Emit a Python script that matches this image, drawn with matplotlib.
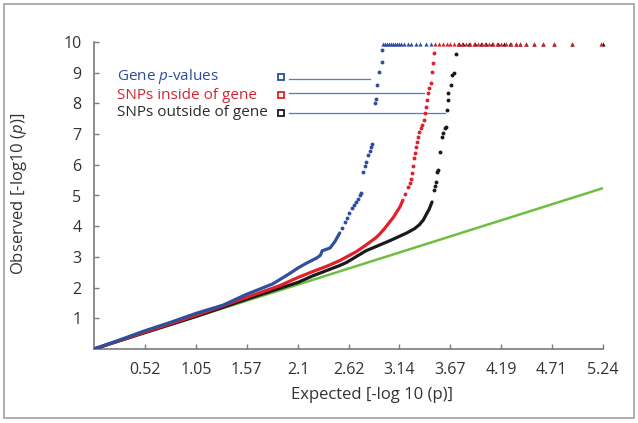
import matplotlib
matplotlib.use("Agg")
import matplotlib.pyplot as plt
from matplotlib.patches import Rectangle

plt.rcParams['font.family'] = ['Open Sans', 'DejaVu Sans']
plt.rcParams['mathtext.fontset'] = 'custom'
plt.rcParams['mathtext.rm'] = 'Open Sans'
plt.rcParams['mathtext.it'] = 'Open Sans:italic'

# ---------------- data ----------------
x_ticks = [0.52, 1.05, 1.57, 2.1, 2.62, 3.14, 3.67, 4.19, 4.71, 5.24]
x_tick_labels = ["0.52", "1.05", "1.57", "2.1", "2.62", "3.14", "3.67", "4.19", "4.71", "5.24"]
y_ticks = [1, 2, 3, 4, 5, 6, 7, 8, 9, 10]

null_x = [0, 5.24]
null_y = [0, 5.24]

# Gene p-values (blue)
gene_line_x = [0, 0.26, 0.52, 0.78, 1.05, 1.33, 1.57, 1.84, 2.01, 2.1, 2.19, 2.29, 2.33, 2.35, 2.43, 2.48, 2.53]
gene_line_y = [0, 0.29, 0.59, 0.86, 1.16, 1.43, 1.78, 2.12, 2.45, 2.64, 2.8, 2.96, 3.05, 3.2, 3.29, 3.5, 3.78]
gene_dot_x = [2.55, 2.58, 2.60, 2.63, 2.66, 2.68, 2.70, 2.72, 2.74, 2.75,
              2.77, 2.79, 2.80, 2.82, 2.84, 2.85, 2.86,
              2.89, 2.90, 2.91, 2.93, 2.96, 2.97]
gene_dot_y = [3.95, 4.14, 4.27, 4.43, 4.6, 4.69, 4.8, 4.89, 5.0, 5.08,
              5.77, 5.95, 6.09, 6.32, 6.45, 6.58, 6.68,
              8.0, 8.14, 8.6, 9.02, 9.35, 9.74]
gene_top_x = [2.98, 3.00, 3.02, 3.04, 3.06, 3.08, 3.10, 3.12, 3.14, 3.16,
              3.19, 3.23, 3.26, 3.31, 3.36, 3.42, 3.47]
gene_top_y = [9.93] * len(gene_top_x)

# SNPs inside of gene (red)
inside_line_x = [0, 0.52, 1.05, 1.57, 1.91, 2.1, 2.25, 2.4, 2.53, 2.63, 2.7, 2.77, 2.84, 2.9, 2.94, 2.99, 3.04, 3.08, 3.11, 3.15, 3.18]
inside_line_y = [0, 0.55, 1.1, 1.68, 2.06, 2.33, 2.52, 2.7, 2.88, 3.05, 3.17, 3.32, 3.48, 3.62, 3.74, 3.92, 4.12, 4.28, 4.43, 4.63, 4.85]
inside_dot_x = [3.20, 3.23, 3.25, 3.26, 3.27, 3.28, 3.29, 3.30, 3.32, 3.33, 3.34, 3.35,
                3.37, 3.38, 3.40, 3.41, 3.42, 3.43, 3.44, 3.45, 3.47, 3.48, 3.49, 3.50]
inside_dot_y = [5.05, 5.28, 5.4, 5.55, 5.73, 5.95, 6.22, 6.4, 6.58, 6.75, 6.9, 7.07,
                7.2, 7.3, 7.46, 7.7, 7.88, 8.1, 8.33, 8.5, 8.66, 9.02, 9.3, 9.64]
inside_top_x = [3.51, 3.55, 3.59, 3.63, 3.67, 3.71, 3.75, 3.79, 3.83, 3.87, 3.91, 3.95,
                3.99, 4.03, 4.07, 4.11, 4.15, 4.19, 4.24, 4.29, 4.34, 4.39, 4.45, 4.53,
                4.62, 4.74, 4.92, 5.22]
inside_top_y = [9.93] * len(inside_top_x)

# SNPs outside of gene (black)
outside_line_x = [0, 0.52, 1.05, 1.57, 2.1, 2.25, 2.53, 2.6, 2.8, 3.04, 3.22, 3.3, 3.35, 3.39, 3.42, 3.45, 3.48]
outside_line_y = [0, 0.53, 1.06, 1.62, 2.17, 2.38, 2.72, 2.82, 3.2, 3.52, 3.78, 3.92, 4.05, 4.2, 4.38, 4.55, 4.79]
outside_dot_x = [3.50, 3.51, 3.52, 3.53, 3.54, 3.56, 3.58, 3.59, 3.61, 3.62, 3.63,
                 3.64, 3.645, 3.68, 3.69, 3.71, 3.73]
outside_dot_y = [5.18, 5.3, 5.44, 5.77, 5.83, 6.42, 6.91, 7.04, 7.2, 7.23, 7.78,
                 8.1, 8.33, 8.6, 8.93, 8.99, 9.6]
outside_top_x = [3.76, 3.80, 3.86, 3.92, 3.98, 4.04, 4.10, 4.16, 4.22, 4.28, 4.34,
                 4.39, 4.45, 4.53, 4.62, 4.74, 4.92, 5.24]
outside_top_y = [9.93] * len(outside_top_x)

labels = ["Gene $\\mathit{p}$-values", "SNPs inside of gene", "SNPs outside of gene"]

# ---------------- style ----------------
c_blue = "#2f4e9e"
c_red = "#e0202b"
c_black = "#1a1a1a"
c_green = "#6dbf3f"
c_leader = "#4f7fc4"
text_colors = ["#2d4c9c", "#d9232e", "#2b2b2b"]
axis_col = "#7a7a7a"
tick_col = "#333333"

fig = plt.figure(figsize=(6.38, 4.23), dpi=100)
ax = fig.add_axes([94 / 638, 74 / 423, 509 / 638, 307 / 423])

ax.plot(null_x, null_y, color=c_green, lw=1.8, zorder=2, solid_capstyle='butt')

series = [
    (gene_line_x, gene_line_y, gene_dot_x, gene_dot_y, gene_top_x, gene_top_y, c_blue, 5),
    (outside_line_x, outside_line_y, outside_dot_x, outside_dot_y, outside_top_x, outside_top_y, c_black, 3),
    (inside_line_x, inside_line_y, inside_dot_x, inside_dot_y, inside_top_x, inside_top_y, c_red, 4),
]
for lx, ly, dx, dy, tx, ty, col, z in series:
    ax.plot(lx, ly, color=col, lw=2.3, zorder=z, solid_capstyle='round', solid_joinstyle='round')
    ax.plot(dx, dy, ls='none', marker='o', ms=2.8, color=col, mew=0, zorder=z)
    ax.plot(tx, ty, ls='none', marker='^', ms=3.0, color=col, mew=0, zorder=z, clip_on=False)

ax.set_xlim(0, 5.24)
ax.set_ylim(0, 10)
ax.set_xticks(x_ticks)
ax.set_xticklabels(x_tick_labels)
ax.set_yticks(y_ticks)
for s in ['top', 'right']:
    ax.spines[s].set_visible(False)
for s in ['left', 'bottom']:
    ax.spines[s].set_color(axis_col)
    ax.spines[s].set_linewidth(1.2)
ax.tick_params(direction='in', length=3.5, width=1.0, color=axis_col,
               labelsize=11.5, labelcolor=tick_col)
ax.tick_params(axis='x', pad=9)
ax.tick_params(axis='y', pad=9)

ax.set_xlabel("Expected [-log 10 (p)]", fontsize=12, color=tick_col)
ax.xaxis.set_label_coords((372 - 94) / 509, -0.125)
ax.set_ylabel("Observed [-log10 ($\\mathit{p}$)]", fontsize=12, color=tick_col)
ax.yaxis.set_label_coords(-0.128, 0.505)

# legend with leader lines
text_y = [8.86, 8.27, 7.69]
leader_y = [8.79, 8.34, 7.69]
leader_end = [2.84, 3.40, 3.61]
sq_col = [c_blue, c_red, c_black]
for i in range(3):
    ax.text(0.236, text_y[i], labels[i], fontsize=11, color=text_colors[i],
            va='center', ha='left')
    ax.plot([1.93], [text_y[i]], marker='s', ms=4.4, mfc='white', mec=sq_col[i], mew=1.3, zorder=6)
    ax.plot([2.01, leader_end[i]], [leader_y[i], leader_y[i]], color=c_leader, lw=0.9, zorder=1)

# outer frame
fig.patches.append(Rectangle((3.5 / 638, 5 / 423), 630 / 638, 414 / 423, transform=fig.transFigure,
                             fill=False, edgecolor="#a8a8a8", lw=1.3))

fig.savefig("out.png", dpi=100)
